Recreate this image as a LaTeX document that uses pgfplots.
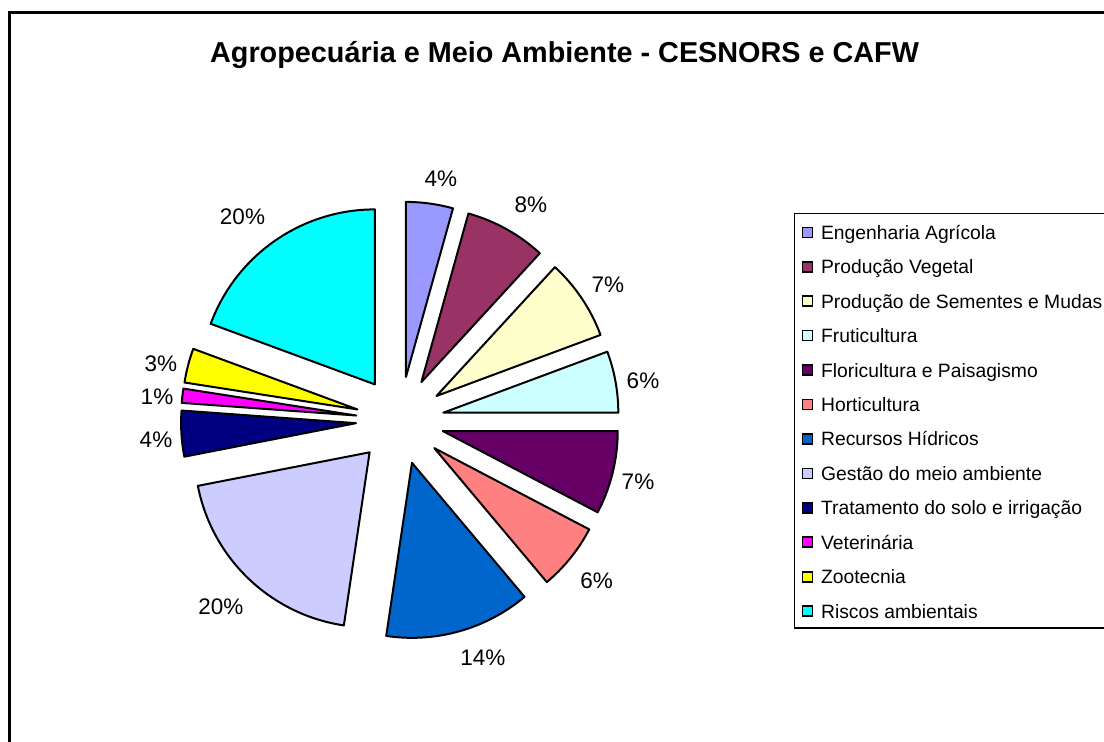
\documentclass[border=0pt]{standalone}
\usepackage{pgfplots}
\pgfplotsset{compat=1.18}
\usepackage{pgfplotstable}
\usepackage{fontspec}
\setmainfont{Liberation Sans}

\definecolor{c0}{HTML}{9999FF}
\definecolor{c1}{HTML}{993366}
\definecolor{c2}{HTML}{FFFFCC}
\definecolor{c3}{HTML}{CCFFFF}
\definecolor{c4}{HTML}{660066}
\definecolor{c5}{HTML}{FF8080}
\definecolor{c6}{HTML}{0066CC}
\definecolor{c7}{HTML}{CCCCFF}
\definecolor{c8}{HTML}{000080}
\definecolor{c9}{HTML}{FF00FF}
\definecolor{c10}{HTML}{FFFF00}
\definecolor{c11}{HTML}{00FFFF}

% share (percent), printed label, label centre (px)
\pgfplotstableread[col sep=comma]{
name,val,lab,lx,ly
Engenharia Agrícola,4.33,4,440.8,179.2
Produção Vegetal,7.50,8,530.8,204.7
Produção de Sementes e Mudas,7.50,7,607.8,284.7
Fruticultura,5.67,6,643,381
Floricultura e Paisagismo,7.69,7,638,482
Horticultura,6.19,6,596.7,581
Recursos Hídricos,13.47,14,482.8,658
Gestão do meio ambiente,19.58,20,220.8,606.7
Tratamento do solo e irrigação,4.22,4,156,440
Veterinária,1.31,1,157,396.7
Zootecnia,3.17,3,160.8,363.3
Riscos ambientais,19.37,20,242.5,216.7
}\pietable

\newcommand\gv[2]{\csname #1#2\endcsname}

\begin{document}
\begin{tikzpicture}%
\def\cum{0}%
\pgfplotsforeachungrouped \i in {0,...,11}{%
  \pgfplotstablegetelem{\i}{val}\of\pietable
  \let\myv\pgfplotsretval
  \pgfmathsetmacro\mta{\cum*3.6}%
  \pgfmathsetmacro\cum{\cum+\myv}%
  \pgfmathsetmacro\mtb{\cum*3.6}%
  \pgfmathsetmacro\mpa{90-\mta}%
  \pgfmathsetmacro\mpb{90-\mtb}%
  \pgfmathsetmacro\mtm{(\mta+\mtb)/2}%
  \pgfmathsetmacro\mcx{400+44*sin(\mtm)}%
  \pgfmathsetmacro\mcy{420.5-44*cos(\mtm)}%
  \expandafter\xdef\csname spa\i\endcsname{\mpa}%
  \expandafter\xdef\csname spb\i\endcsname{\mpb}%
  \expandafter\xdef\csname scx\i\endcsname{\mcx}%
  \expandafter\xdef\csname scy\i\endcsname{\mcy}%
  \pgfplotstablegetelem{\i}{name}\of\pietable
  \expandafter\global\expandafter\let\csname snm\i\endcsname\pgfplotsretval
  \pgfplotstablegetelem{\i}{lab}\of\pietable
  \expandafter\global\expandafter\let\csname slb\i\endcsname\pgfplotsretval
  \pgfplotstablegetelem{\i}{lx}\of\pietable
  \expandafter\global\expandafter\let\csname slx\i\endcsname\pgfplotsretval
  \pgfplotstablegetelem{\i}{ly}\of\pietable
  \expandafter\global\expandafter\let\csname sly\i\endcsname\pgfplotsretval
}%
\begin{axis}[
  at={(0,0)}, anchor=south west,
  scale only axis, width=552bp, height=371bp,
  xmin=0, xmax=1104, ymin=0, ymax=742, y dir=reverse,
  hide axis, clip=false,
]
\pgfplotsinvokeforeach{0,...,11}{%
  \filldraw[fill=c#1, draw=black, line width=1bp, line join=round]
    (axis cs:\gv{scx}{#1},\gv{scy}{#1}) -- ++(\gv{spa}{#1}:87.5bp)
    arc[start angle=\gv{spa}{#1}, end angle=\gv{spb}{#1}, radius=87.5bp] -- cycle;
  \node[font=\fontsize{11.25bp}{13bp}\selectfont, inner sep=0pt]
    at (axis cs:\gv{slx}{#1},\gv{sly}{#1}) {\gv{slb}{#1}\%};
  \filldraw[fill=c#1, draw=black, line width=0.8bp]
    (axis cs:802.4,{227.4+34.43*#1}) rectangle (axis cs:812.6,{237.4+34.43*#1});
  \node[anchor=base west, inner sep=0pt, font=\fontsize{9.65bp}{11.5bp}\selectfont]
    at (axis cs:820.7,{239.3+34.43*#1}) {\gv{snm}{#1}};
}
\node[anchor=base, inner sep=0pt, font=\bfseries\fontsize{14.4bp}{16.5bp}\selectfont]
  at (axis cs:564.6,62.7) {Agropecuária e Meio Ambiente - CESNORS e CAFW};
\draw[line width=1.3bp] (axis cs:9.5,742) -- (axis cs:9.5,12.8) -- (axis cs:1104,12.8);
\draw[line width=0.8bp] (axis cs:1104,213.3) -- (axis cs:794.3,213.3) -- (axis cs:794.3,627.7) -- (axis cs:1104,627.7);
\end{axis}
\pgfresetboundingbox
\useasboundingbox (0,0) rectangle (552bp,371bp);
\end{tikzpicture}
\end{document}
